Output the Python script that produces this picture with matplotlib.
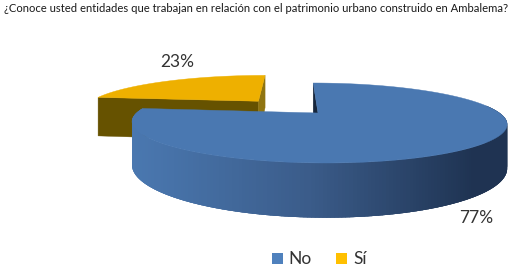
import numpy as np
import matplotlib
matplotlib.use("Agg")
import matplotlib.pyplot as plt
from matplotlib.patches import Polygon, Rectangle

plt.rcParams["font.family"] = ["Lato", "DejaVu Sans"]

title = "¿Conoce usted entidades que trabajan en relación con el patrimonio urbano construido en Ambalema?"
categories = ["No", "Sí"]
values = [77, 23]
value_labels = ["77%", "23%"]

# fake 3d pie, perspective worked out by eye from the reference
X0, Y0 = 318, 113
RX, RY = 181.5, 37.5
PERSP = 0.25
SKEW = 6
DEPTH = 41


def project(u, v, down=0.0):
    w = 1 + PERSP * v
    return X0 + (u * RX - SKEW * v) / w, Y0 - v * RY / w + down / w


def rim(a0, a1, off=(0, 0), down=0.0, n=200):
    # angles in degrees, clockwise from 12 o'clock
    t = np.radians(np.linspace(a0, a1, n))
    return project(off[0] + np.sin(t), off[1] + np.cos(t), down)


def mix(c0, c1, f):
    return tuple(a + (b - a) * f for a, b in zip(c0, c1))


fig = plt.figure(figsize=(5.10, 2.66), dpi=100)
ax = fig.add_axes([0, 0, 1, 1])
ax.set_xlim(0, 510)
ax.set_ylim(266, 0)
ax.axis("off")

no_end = 360 * values[0] / sum(values)

# Sí slice, pulled out towards the upper left
off = (-0.345, 0.34)
ax_up, ay_up = project(*off)
ax_dn, ay_dn = project(*off, DEPTH + 2)
rx_up, ry_up = rim(no_end, 360, off)
rx_dn, ry_dn = rim(no_end, 360, off, DEPTH + 2)
ax.add_patch(Polygon([(ax_up, ay_up), (rx_up[0], ry_up[0]), (rx_dn[0], ry_dn[0]), (ax_dn, ay_dn)],
                     fc="#665200", ec="#665200", lw=0.3))
ax.add_patch(Polygon([(ax_up, ay_up), (rx_up[-1], ry_up[-1]), (rx_dn[-1], ry_dn[-1]), (ax_dn, ay_dn)],
                     fc="#8f7410", ec="#8f7410", lw=0.3))
ax.add_patch(Polygon(np.r_[[[ax_up, ay_up]], np.c_[rx_up, ry_up]], fc="#eeb000", ec="#eeb000", lw=0.3))

# No slice: cut wall, gradient side, then top
c_left = (0.29, 0.47, 0.69)
c_mid = (0.23, 0.36, 0.54)
c_right = (0.12, 0.20, 0.32)
ux, uy = rim(0, 0.01, n=2)
lx, ly = rim(0, 0.01, down=DEPTH, n=2)
ax_up, ay_up = project(0, 0)
ax_dn, ay_dn = project(0, 0, DEPTH)
ax.add_patch(Polygon([(ax_up, ay_up), (ux[0], uy[0]), (lx[0], ly[0]), (ax_dn, ay_dn)],
                     fc="#16263c", ec="#16263c", lw=0.3))

# each strip overlaps the one before it so no seams show
edges = np.linspace(80, no_end, 220)
for a0, a1 in zip(edges[:-1], edges[1:]):
    x0, y0 = rim(a0 - 2, a1, n=6)
    x1, y1 = rim(a0 - 2, a1, down=DEPTH, n=6)
    xm = rim(a0, a1, n=2)[0].mean()
    # colour follows the horizontal position on the side wall
    f = np.clip((xm - 132) / (470 - 132), 0, 1)
    col = mix(c_left, c_mid, f / 0.5) if f < 0.5 else mix(c_mid, c_right, (f - 0.5) / 0.5)
    ax.add_patch(Polygon(np.r_[np.c_[x0, y0], np.c_[x1, y1][::-1]], fc=col, ec="none"))

rx_up, ry_up = rim(0, no_end)
ax.add_patch(Polygon(np.r_[[[ax_up, ay_up]], np.c_[rx_up, ry_up]], fc="#4a78b1", ec="#4a78b1", lw=0.3))

ax.text(256.5, 8.5, title, ha="center", va="center", fontsize=8.1, color="#1a1a1a")
ax.text(476, 218, value_labels[0], ha="center", va="center", fontsize=12.5, color="#333333")
ax.text(177, 62, value_labels[1], ha="center", va="center", fontsize=12.5, color="#333333")

# legend
legend_colors = ["#4f81bd", "#ffc000"]
for name, col, sx, tx in zip(categories, legend_colors, [272, 336], [288, 353]):
    ax.add_patch(Rectangle((sx, 253), 11, 11, fc=col, ec="none"))
    ax.text(tx, 258.5, name, ha="left", va="center", fontsize=12.5, color="#333333")

fig.savefig("out.png", dpi=100)
plt.close(fig)
